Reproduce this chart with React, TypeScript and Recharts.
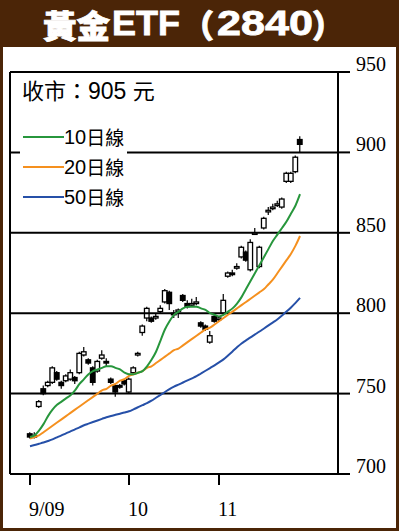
import React from "react";
import { ComposedChart, Bar, Line, XAxis, YAxis, ReferenceLine } from "recharts";

// ── Daily candles ──────────────────────────────────────────────────────────────
const OPEN = [
  725, 724, 742, 753, 755, 757, 763, 757, 758, 759, 760, 763, 774, 771, 766, 764,
  772, 770, 759, 755, 755, 758, 751, 763, 774, 788, 797, 797, 797, 801, 807, 813,
  800, 801, 811, 806, 805, 806, 794, 792, 782, 798, 796, 800, 823, 825, 828, 835,
  838, 827, 849, 829, 853, 863, 865, 867, 866, 882, 882, 888, 908,
];
const CLOSE = [
  723, 723, 745, 750, 757, 766, 759, 755, 761, 763, 758, 775, 776, 769, 757, 770,
  774, 769, 757, 751, 754, 756, 759, 766, 775, 792, 803, 795, 798, 803, 814, 806,
  799, 802, 808, 804, 806, 807, 792, 790, 786, 795, 797, 808, 825, 824, 829, 841,
  833, 844, 850, 841, 859, 864, 866, 868, 871, 887, 887, 897, 905,
];
const HIGH = [
  726, 726, 746, 755, 758, 767, 764, 758, 762, 765, 761, 776, 779, 772, 767, 771,
  777, 772, 760, 756, 756, 759, 760, 767, 776, 793, 804, 798, 800, 805, 815, 814,
  802, 803, 812, 808, 809, 810, 795, 793, 789, 800, 798, 812, 826, 827, 831, 842,
  839, 846, 853, 842, 860, 866, 868, 870, 872, 888, 888, 898, 910,
];
const LOW = [
  722, 722, 741, 749, 754, 756, 758, 753, 757, 758, 756, 762, 773, 768, 755, 763,
  771, 767, 756, 748, 753, 755, 750, 762, 773, 786, 795, 794, 796, 800, 806, 802,
  797, 797, 807, 803, 804, 805, 791, 789, 781, 794, 795, 799, 822, 823, 827, 834,
  832, 826, 849, 828, 852, 861, 864, 866, 865, 881, 881, 887, 900,
];

// ── Moving averages ────────────────────────────────────────────────────────────
const MA10 = [
  723, 724, 727, 731, 736, 740, 743, 745, 747, 749, 752, 756, 759, 762, 764, 765,
  766, 767, 767, 766, 765, 763, 762, 762, 763, 764, 767, 771, 776, 783, 790, 795,
  799, 801, 803, 804, 804, 804, 803, 802, 800, 799, 798, 799, 801, 803, 806, 810,
  815, 820, 825, 830, 835, 840, 845, 849, 853, 857, 862, 867, 874,
];
const MA20 = [
  722, 723, 724, 726, 728, 730, 732, 734, 736, 738, 740, 742, 744, 746, 748, 750,
  752, 753, 755, 756, 758, 759, 761, 762, 763, 764, 766, 767, 769, 771, 773, 775,
  777, 778, 780, 782, 784, 786, 788, 790, 791, 793, 795, 797, 799, 801, 803, 805,
  807, 809, 811, 813, 815, 818, 821, 825, 829, 833, 837, 842, 848,
];
const MA50 = [
  717.3, 718.0, 718.8, 719.6, 720.5, 721.5, 722.8, 724.0, 725.3, 726.5, 727.8, 729.0,
  730.3, 731.3, 732.3, 733.3, 734.3, 735.3, 736.1, 736.8, 737.5, 738.2, 739.0, 740.2,
  741.5, 742.8, 744.1, 745.6, 747.4, 749.2, 751.0, 752.8, 754.3, 755.6, 756.9, 758.2,
  759.5, 760.8, 762.5, 764.2, 765.9, 767.6, 769.4, 771.3, 773.7, 776.2, 778.8, 781.2,
  783.1, 785.0, 786.8, 788.6, 790.5, 792.4, 794.3, 796.2, 798.6, 801.0, 803.6, 806.4,
  809.5,
];

// ── Axes ───────────────────────────────────────────────────────────────────────
const X_TICKS = [0, 22, 42];
const X_TICK_LABELS = ["9/09", "10", "11"];
const Y_TICKS = [700, 750, 800, 850, 900, 950];
const GRID_LEVELS = [750, 800, 850, 900];
const X_MIN = -4.444;
const X_MAX = 68.44;

const LEGEND = [
  { key: "ma10", label: "10日線", color: "#27963c" },
  { key: "ma20", label: "20日線", color: "#f5901e" },
  { key: "ma50", label: "50日線", color: "#2650a8" },
];

const BROWN = "#4b2507";
const SERIF = '"Liberation Serif", "Times New Roman", serif';
const SANS = '"Liberation Sans", Arial, "Noto Sans CJK TC", sans-serif';
const CJK = '"Noto Sans CJK TC", "Noto Sans CJK SC", sans-serif';

const data = OPEN.map((o, i) => ({
  i,
  open: o,
  close: CLOSE[i],
  high: HIGH[i],
  low: LOW[i],
  range: [LOW[i], HIGH[i]],
  ma10: MA10[i],
  ma20: MA20[i],
  ma50: MA50[i],
}));

// ── Candle shape drawn inside the range bar ────────────────────────────────────
const Candle = (props: any) => {
  const { x, y, width, height, payload } = props;
  if (x == null || y == null) return null;
  const top = Math.min(y, y + height);
  const h = Math.abs(height);
  const { open, close, high, low } = payload;
  const span = high - low || 1;
  const toY = (v: number) => top + ((high - v) / span) * h;
  const yo = toY(open);
  const yc = toY(close);
  const bTop = Math.min(yo, yc);
  const bH = Math.max(Math.abs(yo - yc), 1.5);
  const cx = x + width / 2;
  const up = close >= open;
  return (
    <g>
      <line x1={cx} x2={cx} y1={top} y2={top + h} stroke="#000" strokeWidth={1.2} />
      <rect
        x={cx - 2.3}
        y={bTop}
        width={4.6}
        height={bH}
        fill={up ? "#fff" : "#000"}
        stroke="#000"
        strokeWidth={1.3}
      />
    </g>
  );
};

const XTick = (props: any) => {
  const { x, y, payload } = props;
  const idx = X_TICKS.indexOf(payload.value);
  return (
    <text x={x - 1} y={y + 29} textAnchor="start" fontFamily={SERIF} fontSize={20} fill="#000">
      {X_TICK_LABELS[idx]}
    </text>
  );
};

const YTick = (props: any) => {
  const { x, y, payload } = props;
  return (
    <text x={x} y={y - 1} textAnchor="start" fontFamily={SERIF} fontSize={20} fill="#000">
      {payload.value}
    </text>
  );
};

export default function App() {
  return (
    <div
      style={{
        position: "absolute",
        left: 0,
        top: 0,
        width: 399,
        height: 531,
        background: BROWN,
        overflow: "hidden",
      }}
    >
      <svg width={399} height={47} style={{ position: "absolute", left: 0, top: 0 }}>
        <g fill="#fff" stroke="#fff" strokeWidth={0.8} fontWeight={900}>
          <text x={43} y={37.5} fontFamily={CJK} fontSize={32} textLength={67} lengthAdjust="spacingAndGlyphs">
            黃金
          </text>
          <text x={112} y={35} fontFamily={SANS} fontSize={35} textLength={68} lengthAdjust="spacingAndGlyphs">
            ETF
          </text>
          <text x={214} y={37.5} fontFamily={CJK} fontSize={32} textAnchor="end">（</text>
          <text x={217} y={35} fontFamily={SANS} fontSize={35} textLength={96} lengthAdjust="spacingAndGlyphs">
            2840
          </text>
          <text x={312} y={37.5} fontFamily={CJK} fontSize={32}>）</text>
        </g>
      </svg>
      <div
        style={{
          position: "absolute",
          left: 3,
          top: 47,
          width: 393,
          height: 481,
          background: "#fff",
        }}
      />
      <div style={{ position: "absolute", left: 0, top: 0 }}>
        <ComposedChart
          width={399}
          height={531}
          data={data}
          margin={{ top: 72, right: 0, bottom: 0, left: 10 }}
        >
          <XAxis
            dataKey="i"
            type="number"
            domain={[X_MIN, X_MAX]}
            allowDataOverflow
            ticks={X_TICKS}
            height={57}
            axisLine={{ stroke: "#000", strokeWidth: 2 }}
            tickLine={{ stroke: "#000", strokeWidth: 2 }}
            tickSize={11}
            tick={<XTick />}
          />
          <YAxis
            orientation="right"
            domain={[700, 950]}
            ticks={Y_TICKS}
            width={61}
            axisLine={{ stroke: "#000", strokeWidth: 2 }}
            tickLine={{ stroke: "#000", strokeWidth: 2 }}
            tickSize={12}
            tickMargin={6}
            tick={<YTick />}
          />
          <ReferenceLine y={950} stroke="#000" strokeWidth={2} />
          <ReferenceLine x={X_MIN} stroke="#000" strokeWidth={2} />
          {GRID_LEVELS.map((v) => (
            <ReferenceLine key={v} y={v} stroke="#000" strokeWidth={2} />
          ))}
          <Bar dataKey="range" barSize={4} shape={<Candle />} isAnimationActive={false} />
          <Line type="monotone" dataKey="ma50" stroke="#2650a8" strokeWidth={2} dot={false} isAnimationActive={false} />
          <Line type="monotone" dataKey="ma20" stroke="#f5901e" strokeWidth={2} dot={false} isAnimationActive={false} />
          <Line type="monotone" dataKey="ma10" stroke="#27963c" strokeWidth={2} dot={false} isAnimationActive={false} />
        </ComposedChart>
      </div>
      <div
        style={{
          position: "absolute",
          left: 22,
          top: 74,
          fontFamily: SANS,
          fontSize: 22,
          color: "#000",
          whiteSpace: "nowrap",
          lineHeight: "30px",
        }}
      >
        <span style={{ fontFamily: CJK }}>收市：</span>
        <span style={{ fontSize: 23 }}>905 </span>
        <span style={{ fontFamily: CJK }}>元</span>
      </div>
      <div
        style={{
          position: "absolute",
          left: 20,
          top: 122,
          width: 107,
          height: 88,
          background: "#fff",
        }}
      >
        {LEGEND.map((item, k) => (
          <div
            key={item.key}
            style={{
              position: "absolute",
              left: 3,
              top: 3 + k * 30,
              height: 24,
              display: "flex",
              alignItems: "center",
              whiteSpace: "nowrap",
            }}
          >
            <span style={{ display: "inline-block", width: 41, height: 2, background: item.color }} />
            <span style={{ fontFamily: SANS, fontSize: 20, lineHeight: "24px", color: "#000" }}>
              {item.label.slice(0, 2)}
            </span>
            <span style={{ fontFamily: CJK, fontSize: 19, lineHeight: "24px", color: "#000" }}>
              {item.label.slice(2)}
            </span>
          </div>
        ))}
      </div>
    </div>
  );
}
